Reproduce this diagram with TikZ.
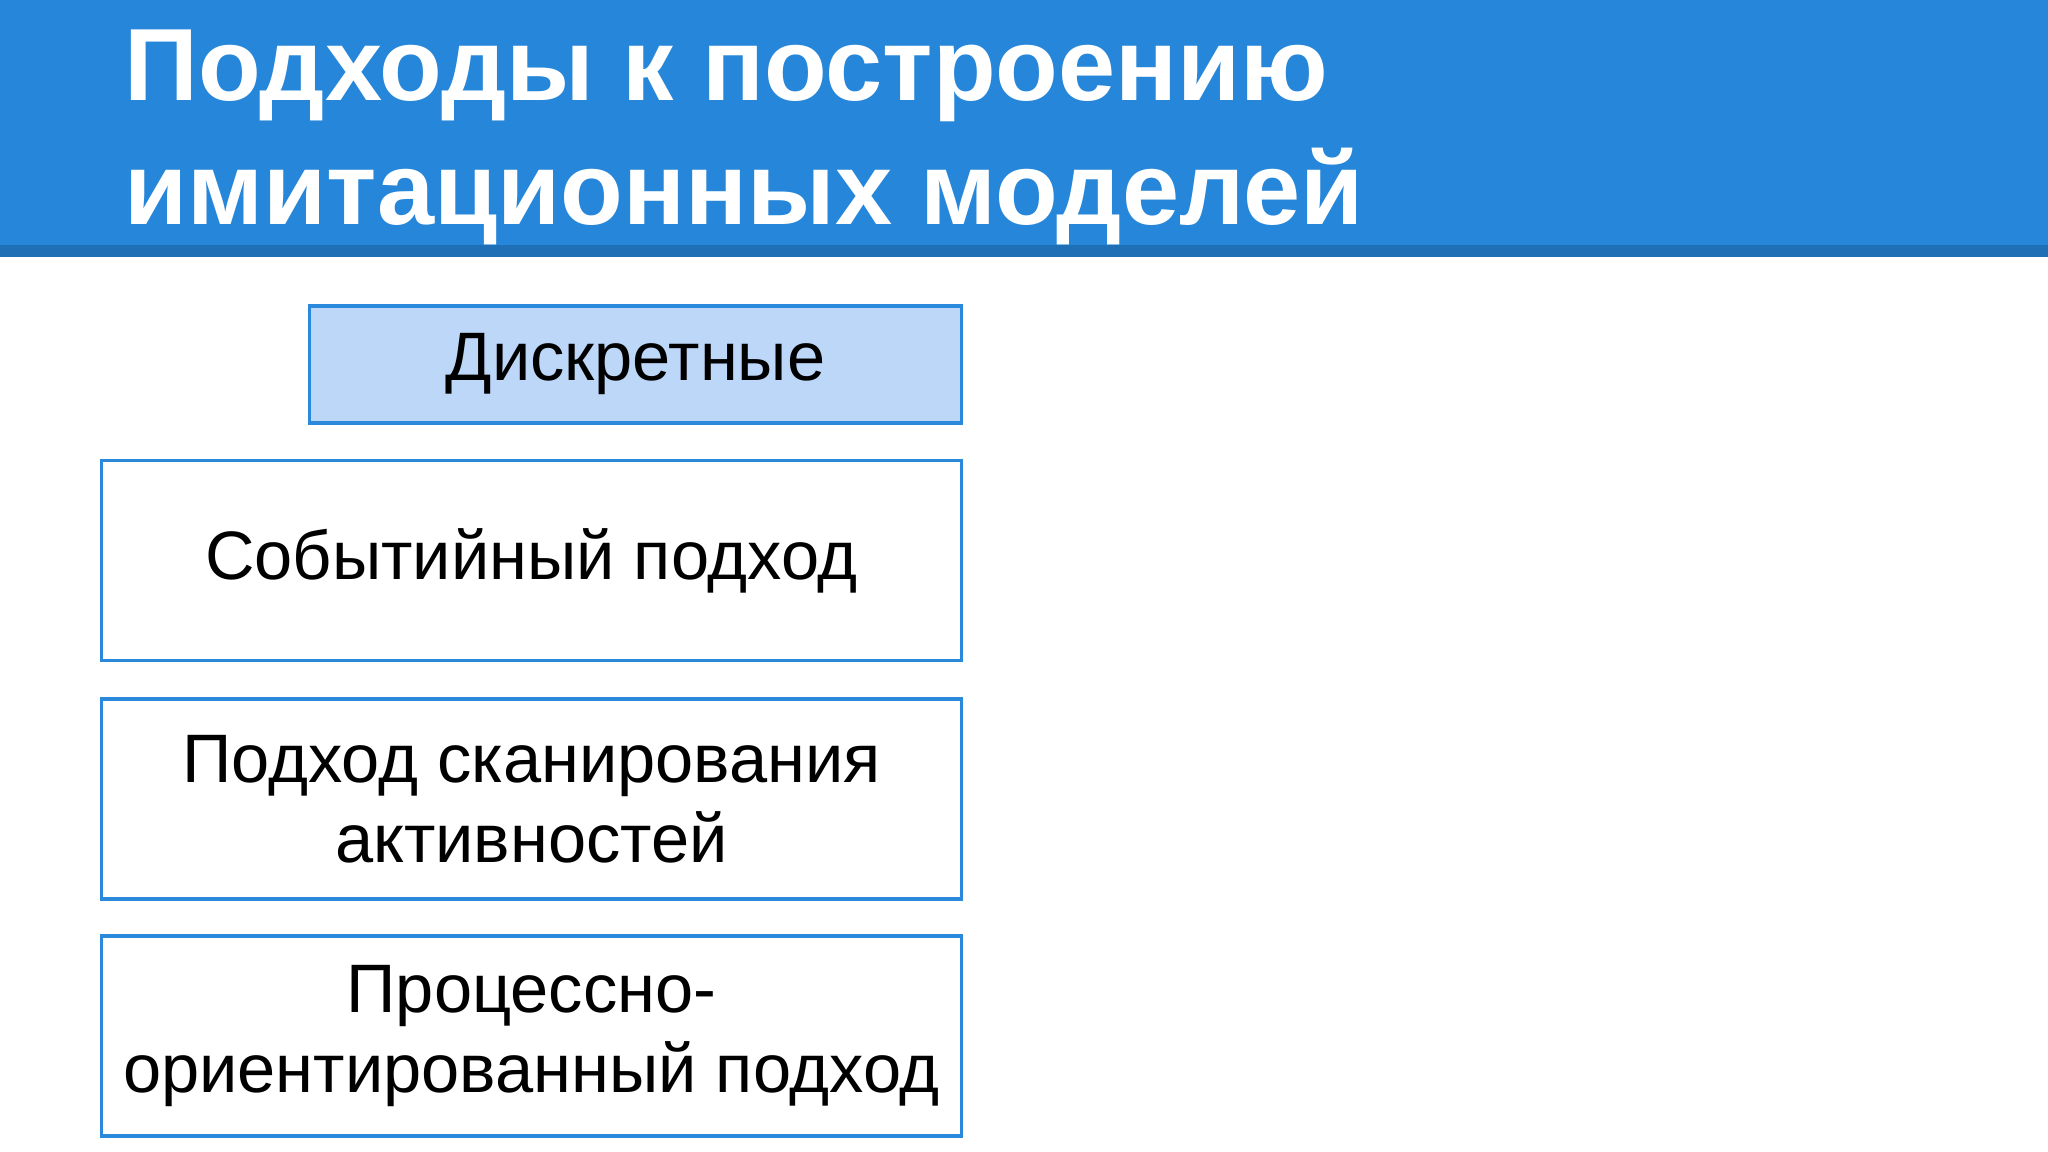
\documentclass[tikz,border=0pt]{standalone}
\usepackage{fontspec}
\setmainfont{Liberation Sans}
\definecolor{headblue}{RGB}{38,134,217}
\definecolor{stripeblue}{RGB}{31,111,182}
\definecolor{boxline}{RGB}{42,137,218}
\definecolor{boxfill}{RGB}{189,215,248}
\tikzset{
	titletext/.style={anchor=base west, inner sep=0pt, text=white, font=\fontsize{29.2}{35}\selectfont\bfseries},
	approach/.style={draw=boxline, line width=0.9pt, align=center, inner sep=0pt,
		font=\fontsize{19.5}{22.7}\selectfont},
	wide/.style={approach, minimum width=8.59cm, minimum height=2.0cm}
}

\begin{document}
\begin{tikzpicture}[x=0.01cm,y=0.01cm]
	\useasboundingbox (0,0) rectangle (2048,-1152);
	% header band
	\fill [headblue] (0,0) rectangle (2048,-245);
	\fill [stripeblue] (0,-245) rectangle (2048,-257);
	\node [titletext] (title1) at (124,-101) {Подходы к построению};
	\node [titletext] (title2) at (124,-225) {имитационных моделей};
	% boxes
	\node [approach, fill=boxfill, minimum width=6.51cm, minimum height=1.17cm] (discrete) at (635.5,-364.5) {Дискретные};
	\node [wide] (event) at (531.5,-560.5) {Событийный подход};
	\node [wide] (activity) at (531.5,-799) {Подход сканирования\\активностей};
	\node [wide] (process) at (531.5,-1036) {Процессно-\\ориентированный подход};
\end{tikzpicture}
\end{document}
